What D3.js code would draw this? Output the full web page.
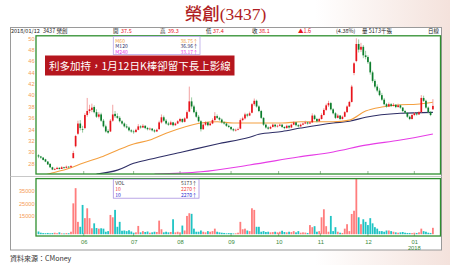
<!DOCTYPE html>
<html>
<head>
<meta charset="utf-8">
<script src="https://cdn.jsdelivr.net/npm/d3@7"></script>
<style>
  body { margin: 0; background: #fff; }
  svg { display: block; }
</style>
</head>
<body>
<div class="container"></div>
<script>
const w = 450
const h = 265

// daily candles, 2017/05 .. 2018/01/12
const opens = [
  29.4,29.2,29.0,28.7,28.3,27.9,27.3,26.9,27.0,27.2,
  27.0,27.3,27.2,27.4,27.3,28.9,31.0,33.2,35.0,34.0,
  34.2,36.5,37.2,37.4,37.9,37.0,36.2,36.6,35.5,34.5,
  33.7,33.6,35.5,36.7,36.3,36.0,35.4,35.0,34.5,34.3,
  33.8,33.6,33.5,33.9,34.5,34.3,34.6,34.2,34.0,34.1,
  33.8,33.6,34.0,35.2,36.1,35.5,35.0,34.8,35.2,34.7,
  35.0,35.4,35.8,35.3,35.9,37.1,38.9,38.0,37.0,36.2,
  35.4,34.0,34.8,35.2,34.7,35.0,35.6,36.3,36.0,35.7,
  35.2,35.0,34.6,34.4,34.0,33.8,33.9,34.1,35.6,35.9,
  36.6,36.4,36.9,38.4,39.0,38.0,37.2,36.0,34.8,34.3,
  34.1,34.4,34.8,34.5,34.6,34.8,34.4,34.2,34.6,34.3,
  34.8,35.2,34.7,34.5,34.8,35.0,35.2,35.0,35.2,36.4,
  35.8,35.4,35.8,36.5,37.4,38.2,38.6,37.5,36.8,36.0,
  36.4,35.8,36.2,37.0,38.0,38.8,43.9,46.0,49.0,48.0,
  48.5,47.0,46.7,45.8,44.0,42.5,41.5,40.8,40.0,39.2,
  38.4,38.0,38.4,38.1,38.3,37.9,38.2,37.8,37.2,36.9,
  36.2,35.8,36.5,36.8,36.6,37.0,39.5,39.0,37.8,37.0,
  37.5
]
const highs = [
  29.6,29.3,29.1,28.8,28.4,28.0,27.4,27.2,27.4,27.3,
  27.5,27.4,27.6,27.5,27.7,30.2,33.0,35.5,35.6,34.6,
  36.8,39.5,38.3,38.5,38.2,37.5,37.0,36.9,35.8,34.8,
  34.0,35.8,38.3,37.2,36.8,36.3,35.6,35.2,34.9,34.5,
  34.0,33.9,34.1,34.9,34.7,34.9,34.7,34.4,34.3,34.2,
  34.0,34.1,35.5,36.6,36.4,35.8,35.3,35.5,35.3,35.2,
  35.6,36.0,35.9,36.1,37.3,41.5,39.6,38.3,37.3,36.5,
  35.6,35.0,35.4,35.3,35.2,35.9,37.0,36.6,36.2,35.9,
  35.4,35.1,34.8,34.5,34.2,34.1,34.3,35.9,36.2,36.9,
  36.8,37.1,38.6,39.4,39.2,38.2,37.4,36.1,35.0,34.5,
  34.6,35.0,34.9,34.8,35.0,34.9,34.5,34.8,34.7,35.0,
  35.4,35.3,34.9,35.0,35.2,35.5,35.3,35.4,36.8,36.6,
  36.0,36.0,36.8,37.7,38.5,39.0,38.8,37.7,37.0,36.7,
  36.5,36.4,37.2,38.2,39.0,41.8,45.8,50.0,49.8,49.2,
  48.8,47.8,47.0,46.0,44.3,42.8,41.9,41.2,40.4,39.5,
  38.6,38.7,38.6,38.6,38.4,38.5,38.3,37.9,37.4,37.0,
  36.4,36.7,37.0,36.9,37.2,40.0,39.9,39.2,38.0,37.2,
  39.3
]
const lows = [
  28.9,28.8,28.5,28.2,27.7,27.2,26.8,26.8,26.9,26.9,
  27.0,27.0,27.1,27.2,27.3,28.9,30.8,33.0,33.8,33.4,
  34.0,36.2,36.8,37.0,36.8,36.0,35.9,35.3,34.3,33.4,
  33.2,33.5,35.3,36.0,35.8,35.2,34.8,34.3,34.1,33.6,
  33.4,33.2,33.4,33.8,34.1,34.2,34.0,33.8,33.8,33.6,
  33.4,33.5,33.9,35.0,35.3,34.8,34.6,34.7,34.5,34.6,
  34.9,35.2,35.1,35.2,35.8,37.0,37.6,36.8,36.0,35.2,
  33.6,33.9,34.6,34.5,34.6,34.9,35.5,35.8,35.5,35.0,
  34.8,34.4,34.2,33.8,33.6,33.6,33.8,34.0,35.4,35.7,
  36.1,36.3,36.8,38.1,37.8,37.0,35.8,34.6,34.1,33.9,
  34.0,34.3,34.3,34.3,34.5,34.2,34.0,34.1,34.1,34.2,
  34.7,34.5,34.3,34.4,34.7,34.9,34.8,34.9,35.1,35.6,
  35.2,35.3,35.7,36.4,37.2,37.9,37.3,36.6,35.8,35.9,
  35.6,35.7,36.1,36.9,37.9,38.7,43.5,45.8,47.5,47.6,
  46.5,46.3,45.5,43.6,42.2,41.2,40.5,39.8,39.0,38.2,
  37.8,37.9,37.9,38.0,37.7,37.8,37.6,37.0,36.7,36.0,
  35.6,35.7,36.3,36.4,36.5,36.9,38.8,37.6,36.8,36.3,
  37.4
]
const closes = [
  29.2,29.0,28.6,28.3,27.8,27.3,26.9,27.0,27.2,27.0,
  27.3,27.2,27.4,27.3,27.5,29.8,32.8,35.0,34.2,33.9,
  36.5,37.2,37.5,37.8,37.0,36.2,36.6,35.5,34.5,33.6,
  33.4,35.5,36.6,36.3,36.0,35.4,35.0,34.5,34.3,33.8,
  33.6,33.5,33.9,34.5,34.3,34.6,34.2,34.0,34.1,33.8,
  33.6,33.9,35.2,36.1,35.5,35.0,34.8,35.2,34.7,35.0,
  35.4,35.8,35.3,35.9,37.0,38.9,38.0,37.0,36.2,35.4,
  34.0,34.8,35.2,34.7,35.0,35.6,36.3,36.0,35.7,35.2,
  35.0,34.6,34.4,34.0,33.8,33.9,34.0,35.6,35.9,36.6,
  36.4,36.8,38.4,39.0,38.0,37.2,36.0,34.8,34.3,34.1,
  34.4,34.8,34.5,34.6,34.8,34.4,34.2,34.6,34.3,34.8,
  35.2,34.7,34.5,34.8,35.0,35.2,35.0,35.2,36.4,35.8,
  35.4,35.8,36.5,37.4,38.2,38.6,37.5,36.8,36.0,36.4,
  35.8,36.2,37.0,38.0,38.8,41.5,45.6,49.0,48.0,48.5,
  47.0,46.7,45.8,44.0,42.5,41.5,40.8,40.0,39.2,38.4,
  38.0,38.4,38.1,38.3,37.9,38.2,37.8,37.2,36.9,36.2,
  35.8,36.5,36.8,36.6,37.0,39.5,39.0,37.8,37.0,36.5,
  38.1
]
const volumes = [
  2200,1200,900,800,1000,700,900,1200,800,1500,
  700,600,900,800,2000,25000,37300,10000,6000,23700,
  13000,21000,13000,4800,8800,5000,4500,4800,4500,2000,
  2500,15600,13700,19700,6000,10000,2800,3000,2500,3200,
  2200,1200,1500,6700,1500,2500,1800,2200,1200,1500,
  2000,1800,11000,4000,1500,2000,1500,1800,12100,1500,
  2000,1500,7000,3000,14800,17000,16500,4500,2000,2000,
  3000,2000,1500,2500,2000,2500,4500,2000,1500,1200,
  1000,700,900,800,600,700,1200,10000,4000,4500,
  3000,2500,21000,19700,6000,6000,2000,2500,1800,2000,
  1500,1700,2000,1500,2000,2800,1800,1500,2000,1700,
  2500,1500,2500,1200,1500,1300,1000,7400,5700,6500,
  2000,2500,13700,20200,6500,2000,14800,2500,5700,2000,
  1200,1000,4500,8100,2500,16400,19000,45000,13700,8100,
  12100,10000,7400,13000,8800,5700,4500,2500,2500,2000,
  3000,3000,2500,2000,1500,1200,1500,1800,1200,1000,
  1000,900,1200,1000,1500,4500,2500,2000,1200,1000,
  5173
]

// moving averages, read at a few days (day index, value)
const ma60Idx = [3, 5, 14, 19, 27, 34, 41, 48, 55, 63, 70, 77, 84, 91, 98, 105, 113, 127, 134, 141, 148, 156, 163, 170]
const ma60Val = [26.0, 26.2, 27.2, 28.0, 29.1, 30.3, 31.4, 32.1, 33.3, 34.4, 35.1, 35.3, 35.1, 35.1, 35.1, 35.1, 35.3, 35.3, 35.6, 37.2, 37.9, 38.3, 38.4, 38.75]
const ma120Idx = [25, 34, 41, 48, 62, 77, 91, 95, 105, 113, 127, 134, 141, 156, 170]
const ma120Val = [26.1, 26.8, 28.0, 28.7, 30.0, 31.4, 32.6, 33.1, 33.6, 34.2, 35.1, 35.4, 36.1, 36.8, 36.96]
const ma240Idx = [50, 70, 91, 112, 127, 141, 156, 170]
const ma240Val = [26.1, 26.5, 27.7, 29.1, 30.0, 31.2, 32.1, 33.17]

const priceTicks = [28, 30, 32, 34, 36, 38, 40, 42, 44, 46, 48, 50]
const volTicks = [15000, 25000, 35000]
const monthLabels = ["06", "07", "08", "09", "10", "11", "12", "01"]
const monthIdx = [19.5, 41, 61, 83, 103.5, 121.5, 142, 162]

const headerItems = [
  { t: "2018/01/12", x: 11, c: "#222" },
  { t: "3437 榮創", x: 43, c: "#222" },
  { t: "開", x: 113, c: "#222" }, { t: "37.5", x: 121, c: "#e8141c" },
  { t: "高", x: 160, c: "#222" }, { t: "39.3", x: 168, c: "#e8141c" },
  { t: "低", x: 206, c: "#222" }, { t: "37.4", x: 213, c: "#e8141c" },
  { t: "收", x: 252, c: "#222" }, { t: "38.1", x: 259, c: "#e8141c" },
  { t: "▲1.6", x: 298, c: "#e8141c" },
  { t: "(4.38%)", x: 336, c: "#222" },
  { t: "量 5173千張", x: 362, c: "#222" },
  { t: "日線", x: 428, c: "#222" }
]
const maLegend = [
  { name: "M60", val: "38.75↑", c: "#f4a040" },
  { name: "M120", val: "36.96↑", c: "#2e2e66" },
  { name: "M240", val: "33.17↑", c: "#e63ce6" }
]
const volLegend = [
  { name: "VOL", val: "5173↑", c: "#333" },
  { name: "10", val: "2270↑", c: "#f03c3c" },
  { name: "10", val: "2270↑", c: "#2a2ad0" }
]

const upColor = "#e8141c"
const downColor = "#0c7d2c"
const cjk = "'Noto Sans CJK TC', 'Liberation Sans', sans-serif"

const svg = d3.select(".container")
              .append("svg")
              .attr("width", w)
              .attr("height", h)

const defs = svg.append("defs")
const grad = defs.append("linearGradient").attr("id", "bg").attr("x1", 0).attr("x2", 1).attr("y1", 0).attr("y2", 0)
grad.append("stop").attr("offset", "0.7").attr("stop-color", "#ffffff")
grad.append("stop").attr("offset", "1").attr("stop-color", "#f4e2dc")
defs.append("clipPath").attr("id", "clipP").append("rect").attr("x", 36).attr("y", 36).attr("width", 404).attr("height", 138)
defs.append("clipPath").attr("id", "clipV").append("rect").attr("x", 36).attr("y", 179).attr("width", 404).attr("height", 57)

svg.append("rect").attr("width", w).attr("height", h).attr("fill", "url(#bg)")

// title
const title = svg.append("text")
  .attr("x", 225.5).attr("y", 20)
  .attr("text-anchor", "middle")
  .attr("fill", "#b01e23")
  .style("font-size", "17.5px")
title.append("tspan").style("font-family", cjk).style("font-weight", 500).text("榮創")
title.append("tspan").style("font-family", "'Liberation Serif', serif").text("(3437)")

// frame
svg.append("rect").attr("x", 10.5).attr("y", 27.5).attr("width", 431).attr("height", 222.5)
   .attr("fill", "#fff").attr("stroke", "#9a9a9a").attr("stroke-width", 1)
svg.append("line").attr("x1", 10.5).attr("x2", 441.5).attr("y1", 176.5).attr("y2", 176.5)
   .attr("stroke", "#c8c8c8").attr("stroke-width", 1)

svg.append("g").selectAll("text")
  .data(headerItems).enter().append("text")
    .attr("x", d => d.x).attr("y", 33.3)
    .attr("fill", d => d.c)
    .style("font-family", cjk).style("font-size", "5.5px")
    .text(d => d.t)

// scales
const xScale = d3.scaleLinear().domain([0, 170]).range([38.5, 432.9])
const yScale = d3.scaleLinear().domain([28, 50]).range([163.3, 38.3])
const vScale = d3.scaleLinear().domain([0, 35000]).range([234.2, 191])

// price axis labels
const yAxis = d3.axisLeft(yScale).tickValues(priceTicks).tickSize(0).tickPadding(0)
svg.append("g").attr("transform", "translate(34.5,0)").call(yAxis)
  .call(g => g.select(".domain").remove())
  .selectAll("text").attr("fill", "#f59a55").style("font-size", "5.6px").style("font-family", "'Liberation Sans', sans-serif")

const vAxis = d3.axisLeft(vScale).tickValues(volTicks).tickFormat(d3.format("d")).tickSize(0).tickPadding(0)
svg.append("g").attr("transform", "translate(34.5,0)").call(vAxis)
  .call(g => g.select(".domain").remove())
  .selectAll("text").attr("fill", "#f59a55").style("font-size", "5.6px").style("font-family", "'Liberation Sans', sans-serif")

// month ticks + labels
const xAxis = d3.axisBottom(xScale).tickValues(monthIdx).tickFormat((d, i) => monthLabels[i]).tickSize(0).tickPadding(4)
svg.append("g").attr("transform", "translate(0,236)").call(xAxis)
  .call(g => g.select(".domain").remove())
  .selectAll("text").attr("fill", "#3a8a3a").style("font-size", "5.8px").style("font-family", "'Liberation Sans', sans-serif")
svg.append("text").attr("x", xScale(monthIdx[7])).attr("y", 249.5).attr("text-anchor", "middle")
   .attr("fill", "#3a8a3a").style("font-size", "5.8px").style("font-family", "'Liberation Sans', sans-serif").text("2018")

;[174, 236].forEach(by => {
  svg.append("g").selectAll("line").data(monthIdx).enter().append("line")
    .attr("x1", d => xScale(d)).attr("x2", d => xScale(d))
    .attr("y1", by - 3).attr("y2", by)
    .attr("stroke", "#6a9a6a").attr("stroke-width", 0.7)
})

// price panel
const price = svg.append("g").attr("clip-path", "url(#clipP)")
const days = d3.range(closes.length)

const maLine = (idx, val, color) => {
  price.append("path")
    .datum(idx.map((d, i) => [d, val[i]]))
    .attr("fill", "none").attr("stroke", color).attr("stroke-width", 1.1)
    .attr("d", d3.line().x(d => xScale(d[0])).y(d => yScale(d[1])).curve(d3.curveMonotoneX))
}
maLine(ma240Idx, ma240Val, "#e63ce6")
maLine(ma120Idx, ma120Val, "#2e2e66")
maLine(ma60Idx, ma60Val, "#f4a040")

price.selectAll(".wick").data(days).enter().append("line")
  .attr("class", "wick")
  .attr("x1", i => xScale(i)).attr("x2", i => xScale(i))
  .attr("y1", i => yScale(highs[i])).attr("y2", i => yScale(lows[i]))
  .attr("stroke", i => closes[i] >= opens[i] ? "#f08a8a" : "#7fbf8a")
  .attr("stroke-width", 0.8)

price.selectAll(".body").data(days).enter().append("rect")
  .attr("class", "body")
  .attr("x", i => xScale(i) - 0.85).attr("width", 1.7)
  .attr("y", i => yScale(Math.max(opens[i], closes[i])))
  .attr("height", i => Math.max(0.7, Math.abs(yScale(opens[i]) - yScale(closes[i]))))
  .attr("fill", i => closes[i] >= opens[i] ? upColor : downColor)

// volume panel
const vol = svg.append("g").attr("clip-path", "url(#clipV)")
vol.selectAll("rect").data(days).enter().append("rect")
  .attr("x", i => xScale(i) - 0.9).attr("width", 1.8)
  .attr("y", i => vScale(volumes[i]))
  .attr("height", i => vScale(0) - vScale(volumes[i]))
  .attr("fill", i => closes[i] >= opens[i] ? "#ff7d7d" : "#1fc4c4")

// panel borders
svg.append("rect").attr("x", 36).attr("y", 35.8).attr("width", 404.5).attr("height", 138.2)
   .attr("fill", "none").attr("stroke", "#2f8f2f").attr("stroke-width", 1.3)
svg.append("rect").attr("x", 36).attr("y", 178.6).attr("width", 404.5).attr("height", 57.4)
   .attr("fill", "none").attr("stroke", "#2f8f2f").attr("stroke-width", 1.3)

// legends
const legendBox = (x, y, bw, bh, items, stroke) => {
  const g = svg.append("g")
  g.append("rect").attr("x", x).attr("y", y).attr("width", bw).attr("height", bh)
    .attr("fill", "#fff").attr("stroke", stroke).attr("stroke-width", 0.8)
  g.selectAll(".n").data(items).enter().append("text")
    .attr("x", x + 2).attr("y", (d, i) => y + 6 + i * 5.7)
    .attr("fill", d => d.c).style("font-size", "5px").style("font-family", cjk).text(d => d.name)
  g.selectAll(".v").data(items).enter().append("text")
    .attr("x", x + bw - 2).attr("y", (d, i) => y + 6 + i * 5.7)
    .attr("text-anchor", "end")
    .attr("fill", d => d.c).style("font-size", "5px").style("font-family", cjk).text(d => d.val)
}
legendBox(113.3, 36.5, 86.7, 18, maLegend, "#b9a8e8")
legendBox(113.3, 179.2, 85.7, 19, volLegend, "#a890e0")

// note banner
svg.append("rect").attr("x", 45).attr("y", 55.5).attr("width", 189.5).attr("height", 20)
   .attr("fill", "#b5161e")
svg.append("text").attr("x", 139.8).attr("y", 69.6).attr("text-anchor", "middle")
   .attr("fill", "#fff").style("font-size", "10.5px").style("font-family", cjk)
   .text("利多加持，1月12日K棒卻留下長上影線")

// source
svg.append("text").attr("x", 10).attr("y", 260.5)
   .attr("fill", "#333").style("font-size", "7px").style("font-family", cjk)
   .text("資料來源：CMoney")
</script>
</body>
</html>
